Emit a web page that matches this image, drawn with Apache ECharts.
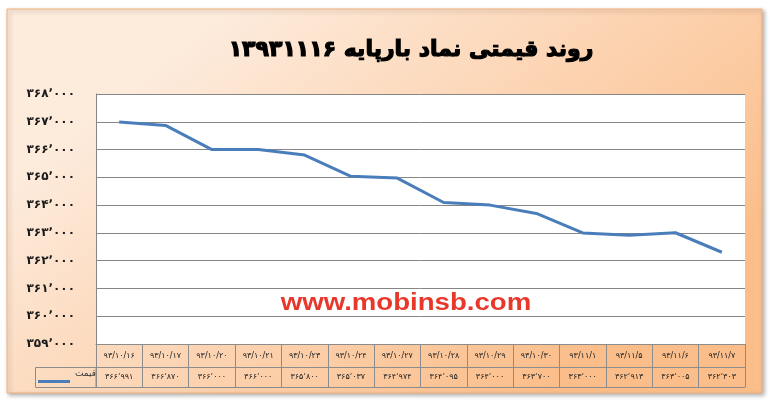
<!DOCTYPE html>
<html><head><meta charset="utf-8">
<script src="https://cdn.jsdelivr.net/npm/echarts@6/dist/echarts.min.js"></script>
<style>html,body{margin:0;padding:0;background:#fff}#c{width:776px;height:406px}</style>
</head><body><div id="c"></div>
<script>
// ---- data ----
const categories = ['۹۳/۱۰/۱۶','۹۳/۱۰/۱۷','۹۳/۱۰/۲۰','۹۳/۱۰/۲۱','۹۳/۱۰/۲۳','۹۳/۱۰/۲۴','۹۳/۱۰/۲۷','۹۳/۱۰/۲۸','۹۳/۱۰/۲۹','۹۳/۱۰/۳۰','۹۳/۱۱/۱','۹۳/۱۱/۵','۹۳/۱۱/۶','۹۳/۱۱/۷'];
const prices = [366991, 366870, 366000, 366000, 365800, 365037, 364974, 364095, 364000, 363700, 363000, 362913, 363005, 362303];
const yMin = 359000, yMax = 368000, yStep = 1000;
const seriesName = 'قیمت';
const titleText = 'روند قیمتی نماد بارپایه ۱۳۹۳۱۱۱۶';
const watermark = 'www.mobinsb.com';

const faDigits = '۰۱۲۳۴۵۶۷۸۹';
function toFa(n) {
  return String(n).replace(/\B(?=(\d{3})+(?!\d))/g, '٬').replace(/\d/g, d => faDigits[+d]);
}
const FONT = "'DejaVu Sans', sans-serif";
const gridGray = '#868686';
const tableGray = '#8c8c8c';

const chart = echarts.init(document.getElementById('c'));
chart.setOption({
  animation: false,
  backgroundColor: '#ffffff',
  title: {
    text: titleText,
    left: 406, top: 34, textAlign: 'center',
    textStyle: { fontFamily: FONT, fontSize: 22, fontWeight: 'bold', color: '#000',
      textBorderColor: '#000', textBorderWidth: 1.2 }
  },
  legend: {
    left: 33, top: 359,
    itemWidth: 32, itemHeight: 19, itemGap: 0,
    icon: 'path://M0,0L0,0M0,16L32,16L32,19L0,19Z',
    data: [seriesName],
    textStyle: { fontFamily: FONT, fontSize: 9, color: '#333' }
  },
  grid: { left: 96, right: 31, top: 94, bottom: 62, show: true, backgroundColor: '#fff', borderWidth: 0 },
  xAxis: [
    {
      type: 'category', data: categories, position: 'bottom', boundaryGap: true,
      axisLine: { show: true, lineStyle: { color: tableGray } },
      axisTick: { show: true, length: 43, interval: 0, lineStyle: { color: tableGray } },
      axisLabel: { interval: 0, margin: 8, fontFamily: FONT, fontSize: 8, color: '#222' }
    },
    {
      type: 'category', data: categories, position: 'bottom', offset: 23, boundaryGap: true,
      axisLine: { show: true, lineStyle: { color: tableGray } },
      axisTick: { show: false },
      axisLabel: { interval: 0, margin: 6, fontFamily: FONT, fontSize: 8, color: '#222',
        formatter: (v, i) => toFa(prices[i]) }
    },
    {
      type: 'category', data: categories, position: 'bottom', offset: 43, boundaryGap: true,
      axisLine: { show: true, lineStyle: { color: tableGray } },
      axisTick: { show: false }, axisLabel: { show: false }
    }
  ],
  yAxis: {
    type: 'value', min: yMin, max: yMax, interval: yStep,
    axisLine: { show: true, lineStyle: { color: gridGray } },
    axisTick: { show: false },
    splitLine: { show: true, lineStyle: { color: gridGray, width: 1 } },
    axisLabel: { margin: 21, fontFamily: FONT, fontSize: 12, fontWeight: 'bold', color: '#1a1a1a',
      formatter: v => toFa(v) }
  },
  series: [{
    name: seriesName, type: 'line', data: prices,
    symbol: 'none', smooth: false,
    lineStyle: { color: '#4a7ebb', width: 3 },
    itemStyle: { color: '#4a7ebb' }
  }],
  graphic: [
    {
      type: 'rect', z: -10,
      shape: { x: 7, y: 9, width: 755, height: 384 },
      style: {
        fill: new echarts.graphic.LinearGradient(0.3, 0, 0.7, 1, [
          { offset: 0, color: '#fdebdc' },
          { offset: 1, color: '#fbbe8b' }
        ]),
        stroke: '#f2b07c', lineWidth: 1,
        shadowBlur: 4, shadowOffsetX: 2, shadowOffsetY: 2, shadowColor: 'rgba(0,0,0,0.3)'
      }
    },
    {
      type: 'rect', z: 10,
      shape: { x: 35.5, y: 367.5, width: 60.5, height: 20 },
      style: { fill: 'none', stroke: tableGray, lineWidth: 1 }
    },
    {
      type: 'text', z: 100,
      x: 406, y: 304, scaleX: 1.2,
      style: {
        text: watermark, fill: '#e8382b',
        font: "bold 23px 'Liberation Sans', Arial, sans-serif",
        textAlign: 'center', textVerticalAlign: 'middle'
      }
    }
  ]
});
</script>
</body></html>
